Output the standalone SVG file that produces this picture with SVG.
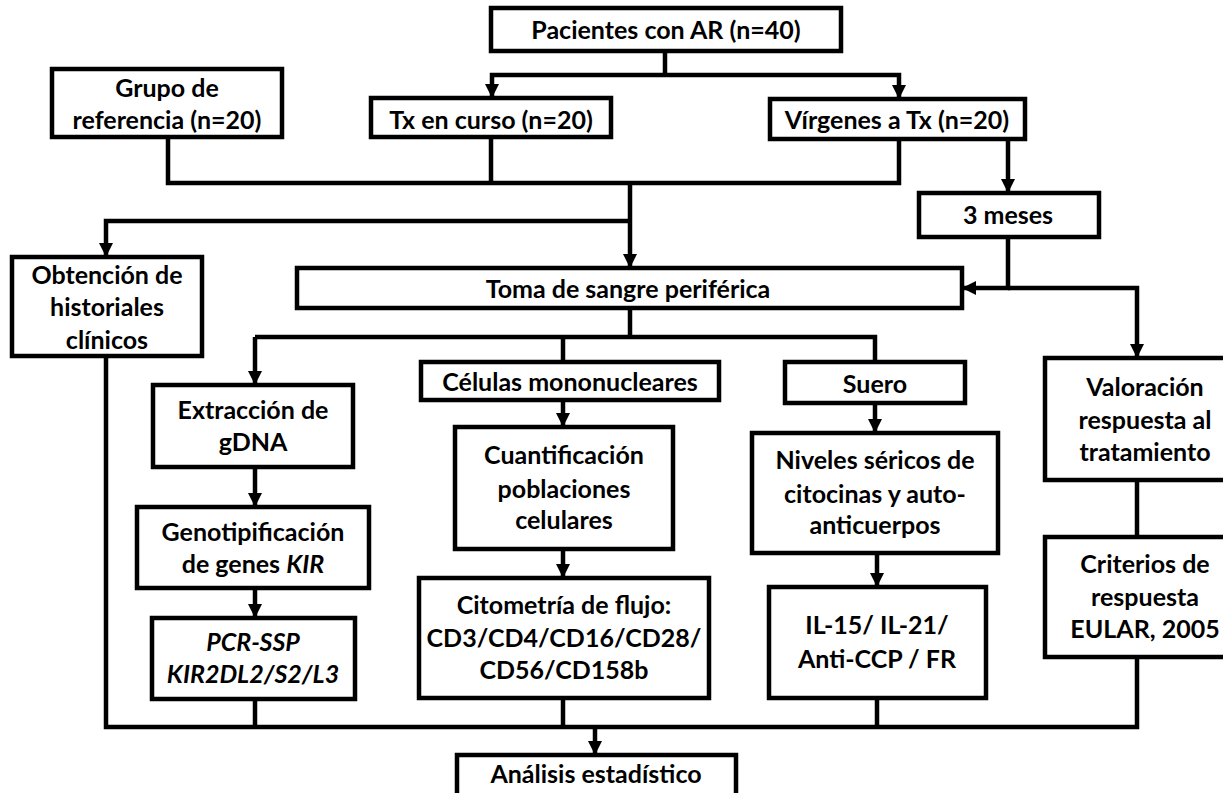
<svg xmlns="http://www.w3.org/2000/svg" width="1223" height="793" viewBox="0 0 1223 793">
<style>
.b{fill:#fff;stroke:#000;stroke-width:4.5}
.c{fill:none;stroke:#000;stroke-width:4.5}
text{font-family:Lato,"Open Sans","Liberation Sans",sans-serif;font-weight:bold;font-size:25px;text-anchor:middle;fill:#000}
.i{font-style:italic}
</style>
<defs>
<marker id="a" markerUnits="userSpaceOnUse" markerWidth="14" markerHeight="14" viewBox="0 0 14 14" refX="13" refY="7" orient="auto">
<path d="M0,0 L14,7 L0,14 Z" fill="#000"/>
</marker>
</defs>
<rect width="1223" height="793" fill="#fff"/>
<g id="connectors">
<path class="c" d="M665,51 V75"/>
<path class="c" d="M665,75 H492 V97" marker-end="url(#a)"/>
<path class="c" d="M665,75 H899 V98" marker-end="url(#a)"/>
<path class="c" d="M168,137 V183 H899 V139"/>
<path class="c" d="M491,137 V183"/>
<path class="c" d="M630,183 V267" marker-end="url(#a)"/>
<path class="c" d="M630,221 H106 V256" marker-end="url(#a)"/>
<path class="c" d="M1008,139 V192" marker-end="url(#a)"/>
<path class="c" d="M1008,237 V288 H963" marker-end="url(#a)"/>
<path class="c" d="M1008,288 H1137 V357" marker-end="url(#a)"/>
<path class="c" d="M630,308 V337"/>
<path class="c" d="M255,337 H875 V362"/>
<path class="c" d="M255,337 V384" marker-end="url(#a)"/>
<path class="c" d="M563,337 V362"/>
<path class="c" d="M255,467 V506" marker-end="url(#a)"/>
<path class="c" d="M255,588 V617" marker-end="url(#a)"/>
<path class="c" d="M563,400 V426" marker-end="url(#a)"/>
<path class="c" d="M563,549 V577" marker-end="url(#a)"/>
<path class="c" d="M875,403 V432" marker-end="url(#a)"/>
<path class="c" d="M877,553 V586" marker-end="url(#a)"/>
<path class="c" d="M1137,480 V537"/>
<path class="c" d="M106,356 V727 H1137 V657"/>
<path class="c" d="M255,699 V727"/>
<path class="c" d="M563,698 V727"/>
<path class="c" d="M877,698 V727"/>
<path class="c" d="M595,727 V754" marker-end="url(#a)"/>
</g>
<g id="pacientes"><rect class="b" x="491" y="8" width="350" height="43"/><text x="666" y="39">Pacientes con AR (n=40)</text></g>
<g id="grupo"><rect class="b" x="52" y="69" width="230" height="68"/><text x="167" y="97">Grupo de</text><text x="167" y="129">referencia (n=20)</text></g>
<g id="txcurso"><rect class="b" x="371" y="98" width="240" height="39"/><text x="491" y="129">Tx en curso (n=20)</text></g>
<g id="virgenes"><rect class="b" x="770" y="99" width="255" height="40"/><text x="897" y="129">Vírgenes a Tx (n=20)</text></g>
<g id="meses"><rect class="b" x="919" y="193" width="180" height="44"/><text x="1008" y="224">3 meses</text></g>
<g id="obtencion"><rect class="b" x="12" y="257" width="190" height="99"/><text x="107" y="284">Obtención de</text><text x="107" y="316">historiales</text><text x="107" y="349">clínicos</text></g>
<g id="toma"><rect class="b" x="297" y="268" width="665" height="40"/><text x="628" y="298">Toma de sangre periférica</text></g>
<g id="celulas"><rect class="b" x="421" y="362" width="298" height="38"/><text x="570" y="391">Células mononucleares</text></g>
<g id="suero"><rect class="b" x="785" y="362" width="180" height="41"/><text x="875" y="393">Suero</text></g>
<g id="extraccion"><rect class="b" x="153" y="385" width="200" height="82"/><text x="253" y="419">Extracción de</text><text x="253" y="451">gDNA</text></g>
<g id="genotip"><rect class="b" x="137" y="507" width="232" height="81"/><text x="253" y="541">Genotipificación</text><text x="253" y="573">de genes <tspan class="i">KIR</tspan></text></g>
<g id="pcr"><rect class="b" x="152" y="618" width="203" height="81"/><text class="i" x="253" y="651">PCR-SSP</text><text class="i" x="253" y="683">KIR2DL2/S2/L3</text></g>
<g id="cuantif"><rect class="b" x="455" y="427" width="218" height="122"/><text x="564" y="464">Cuantificación</text><text x="564" y="498">poblaciones</text><text x="564" y="529">celulares</text></g>
<g id="citometria"><rect class="b" x="419" y="578" width="290" height="120"/><text x="564" y="614">Citometría de flujo:</text><text x="564" y="647">CD3/CD4/CD16/CD28/</text><text x="564" y="679">CD56/CD158b</text></g>
<g id="niveles"><rect class="b" x="752" y="433" width="246" height="120"/><text x="875" y="469">Niveles séricos de</text><text x="875" y="503">citocinas y auto-</text><text x="875" y="534">anticuerpos</text></g>
<g id="il"><rect class="b" x="769" y="587" width="217" height="111"/><text x="877" y="634">IL-15/ IL-21/</text><text x="877" y="668">Anti-CCP / FR</text></g>
<g id="valoracion"><rect class="b" x="1045" y="358" width="210" height="122"/><text x="1145" y="396">Valoración</text><text x="1145" y="429">respuesta al</text><text x="1145" y="461">tratamiento</text></g>
<g id="criterios"><rect class="b" x="1045" y="537" width="210" height="120"/><text x="1145" y="573">Criterios de</text><text x="1145" y="606">respuesta</text><text x="1145" y="638">EULAR, 2005</text></g>
<g id="analisis"><rect class="b" x="457" y="755" width="279" height="42"/><text x="596" y="783">Análisis estadístico</text></g>
</svg>
